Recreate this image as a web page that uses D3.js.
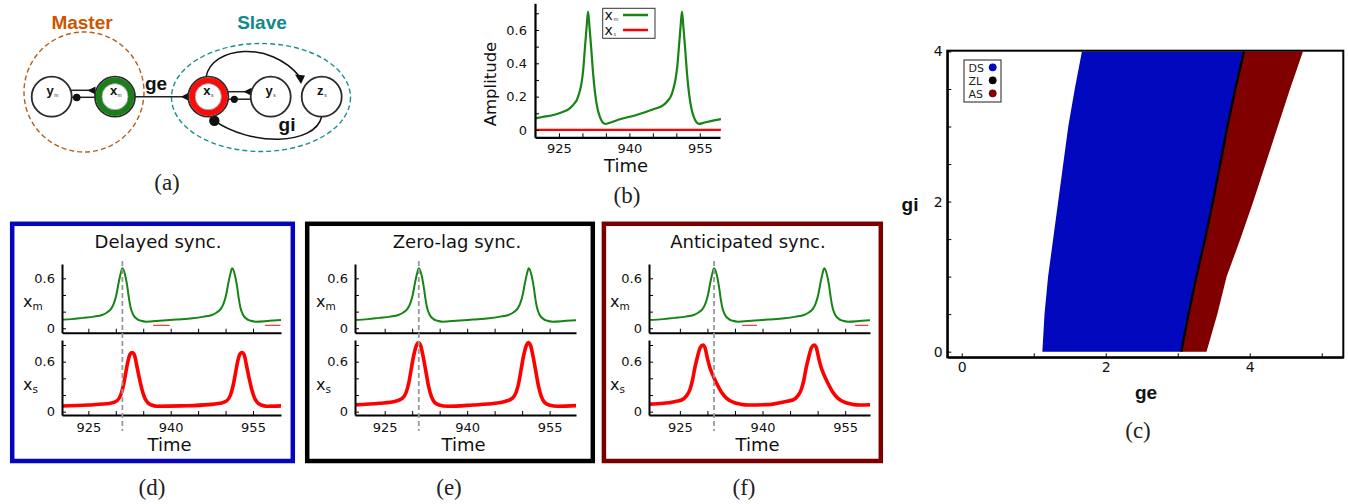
<!DOCTYPE html>
<html><head><meta charset="utf-8">
<script src="https://cdn.jsdelivr.net/npm/d3@7"></script>
<style>body{margin:0;background:#fff}svg{display:block}</style>
</head><body>
<svg id="c" width="1348" height="504"></svg>
<script>
// ================= DATA =================
const timeTicks = [925, 930, 935, 940, 945, 950, 955];
const timeTickLabels = [925, 940, 955];
const ampTicksB = [0, 0.1, 0.2, 0.3, 0.4, 0.5, 0.6, 0.7];
const ampLabelsB = [0, 0.2, 0.4, 0.6];
const ampTicksUpper = [0, 0.2, 0.4, 0.6];
const ampTicksLower = [0, 0.2, 0.4, 0.6, 0.8];
const ampLabelsSync = [0, 0.6];

// panel (b): master oscillates, slave silent
const bMaster = [[919.9,0.07],[921.5,0.078],[923.8,0.09],[925.5,0.105],[927.3,0.13],[928.3,0.16],[928.8,0.18],[929.3,0.22],[929.8,0.28],[930.2,0.37],[930.5,0.48],[930.9,0.62],[931.2,0.71],[931.5,0.62],[931.9,0.48],[932.3,0.33],[932.7,0.22],[933.2,0.13],[933.7,0.08],[934.2,0.05],[934.8,0.036],[936,0.045],[938,0.064],[941.5,0.09],[945.1,0.124],[947.3,0.15],[948.3,0.18],[948.8,0.2],[949.3,0.24],[949.8,0.3],[950.2,0.38],[950.5,0.48],[950.9,0.62],[951.2,0.71],[951.5,0.62],[951.9,0.48],[952.3,0.33],[952.7,0.22],[953.2,0.13],[953.7,0.08],[954.2,0.05],[954.8,0.036],[956,0.045],[958,0.058],[959.5,0.065]];
const bSlave = [[919.9,0],[959.5,0]];

// panels (d)(e)(f): master
const syncMaster = [[919.3,0.098],[922,0.11],[924,0.125],[926,0.14],[927.5,0.16],[928.4,0.19],[929.1,0.23],[929.6,0.29],[930.1,0.4],[930.5,0.54],[930.9,0.66],[931.2,0.72],[931.7,0.64],[932.1,0.5],[932.4,0.36],[932.7,0.25],[933.2,0.16],[933.9,0.11],[934.6,0.09],[935.5,0.08],[938,0.09],[941,0.105],[944,0.12],[946,0.14],[947.5,0.16],[948.4,0.19],[949.1,0.23],[949.6,0.29],[950.1,0.4],[950.5,0.54],[950.9,0.66],[951.2,0.72],[951.7,0.64],[952.1,0.5],[952.4,0.36],[952.7,0.25],[953.2,0.16],[953.9,0.11],[954.6,0.09],[955.5,0.08],[958,0.09],[960.5,0.1]];
// slaves
const slaveDelayed = [[919.3,0.066],[925,0.08],[929,0.1],[930.2,0.13],[930.9,0.2],[931.4,0.32],[931.8,0.46],[932.2,0.6],[932.6,0.69],[933,0.71],[933.4,0.68],[933.8,0.56],[934.3,0.4],[934.8,0.26],[935.3,0.16],[935.8,0.11],[936.5,0.08],[937.5,0.065],[942,0.07],[947,0.085],[949,0.1],[950.2,0.13],[950.9,0.2],[951.4,0.32],[951.8,0.46],[952.2,0.6],[952.6,0.69],[953,0.71],[953.4,0.68],[953.8,0.56],[954.3,0.4],[954.8,0.26],[955.3,0.16],[955.8,0.11],[956.5,0.08],[957.5,0.065],[960.5,0.07]];
const slaveZeroLag = [[919.3,0.08],[924,0.1],[927,0.125],[928.2,0.16],[928.9,0.23],[929.4,0.35],[929.8,0.5],[930.3,0.68],[930.8,0.8],[931.1,0.83],[931.5,0.8],[932,0.66],[932.5,0.48],[933,0.3],[933.5,0.18],[934.1,0.11],[934.9,0.08],[936.5,0.065],[941,0.08],[945,0.1],[947,0.125],[948.2,0.16],[948.9,0.23],[949.4,0.35],[949.8,0.5],[950.3,0.68],[950.8,0.8],[951.1,0.83],[951.5,0.8],[952,0.66],[952.5,0.48],[953,0.3],[953.5,0.18],[954.1,0.11],[954.9,0.08],[956.5,0.065],[960.5,0.075]];
const slaveAnticipated = [[919.3,0.09],[922,0.1],[924,0.12],[925.3,0.14],[926.2,0.19],[926.8,0.26],[927.3,0.38],[927.7,0.52],[928.2,0.66],[928.7,0.77],[929.2,0.8],[929.6,0.76],[930,0.64],[930.4,0.54],[930.9,0.45],[931.6,0.35],[932.5,0.24],[933.5,0.16],[934.8,0.11],[936,0.09],[937.4,0.08],[941,0.085],[944,0.12],[945.5,0.14],[946.4,0.19],[947,0.26],[947.5,0.38],[947.9,0.52],[948.4,0.66],[948.9,0.77],[949.4,0.8],[949.8,0.76],[950.2,0.64],[950.6,0.54],[951.1,0.45],[951.8,0.35],[952.7,0.24],[953.7,0.16],[955,0.11],[956.2,0.09],[957.6,0.08],[960.5,0.085]];
const artifactDelayed = [[936.8,939.8],[957.2,960]];
const artifactAnticipated = [[936.3,939],[956.8,959.2]];
const artifactLevel = 0.035;
const refTime = 931.2;

// panel (c): region boundaries in (g_e) at each g_i level
const giLevels = [0, 0.5, 1, 1.5, 2, 2.5, 3, 3.5, 4];
const dsLeft  = [1.12, 1.15, 1.2, 1.27, 1.34, 1.41, 1.48, 1.57, 1.67];
const zlEdge  = [3.05, 3.15, 3.26, 3.38, 3.49, 3.59, 3.69, 3.8, 3.92];
const asRight = [3.40, 3.55, 3.68, 3.87, 4.05, 4.22, 4.39, 4.56, 4.74];
const geTicks = [0, 1, 2, 3, 4, 5];
const geLabels = [0, 2, 4];
const giTicks = [0, 0.5, 1, 1.5, 2, 2.5, 3, 3.5, 4];
const giLabels = [0, 2, 4];
const regimeNames = ['DS', 'ZL', 'AS'];
const regimeColors = ['#0208be', '#000000', '#800000'];

// ================= DRAW =================
const svg = d3.select('#c');
const SANS = 'DejaVu Sans, sans-serif';
const ARIAL = 'Liberation Sans, Arial, sans-serif';
const SERIF = 'Liberation Serif, Times New Roman, serif';
const GREEN = '#168416', RED = '#ff0000';

function styleAxis(g, fs, sw) {
  g.selectAll('text').attr('font-family', SANS).attr('font-size', fs).attr('fill', '#111');
  g.select('.domain').attr('stroke', '#000').attr('stroke-width', sw);
  g.selectAll('.tick line').attr('stroke', '#000').attr('stroke-width', 1);
}
function fmtLab(list) { return d => list.includes(d) ? (d === 0 ? '0' : String(d)) : ''; }

function panelLabel(x, y, t) {
  svg.append('text').attr('x', x).attr('y', y).attr('text-anchor', 'middle')
    .attr('font-family', SERIF).attr('font-size', 23).attr('fill', '#222').text(t);
}

// ---------- (a) diagram ----------
(function () {
  const g = svg.append('g');
  const cy = 96.7;
  g.append('text').attr('x', 82).attr('y', 28.5).attr('text-anchor', 'middle').attr('font-family', ARIAL)
    .attr('font-weight', 'bold').attr('font-size', 19).attr('fill', '#cc5500').text('Master');
  g.append('text').attr('x', 262).attr('y', 28.5).attr('text-anchor', 'middle').attr('font-family', ARIAL)
    .attr('font-weight', 'bold').attr('font-size', 19).attr('fill', '#128888').text('Slave');
  g.append('circle').attr('cx', 84).attr('cy', 92).attr('r', 60).attr('fill', 'none')
    .attr('stroke', '#b5601c').attr('stroke-width', 1.4).attr('stroke-dasharray', '5,3');
  g.append('ellipse').attr('cx', 261).attr('cy', 97.5).attr('rx', 89.5).attr('ry', 54).attr('fill', 'none')
    .attr('stroke', '#1a8e8e').attr('stroke-width', 1.4).attr('stroke-dasharray', '5,3');
  const ln = (x1, y1, x2, y2) => g.append('line').attr('x1', x1).attr('y1', y1).attr('x2', x2).attr('y2', y2)
    .attr('stroke', '#222').attr('stroke-width', 1.5);
  // master y-x pair
  ln(70, 90.3, 95, 90.3); ln(70, 97.3, 95, 97.3);
  g.append('polygon').attr('points', '95.5,86.5 95.5,94.5 87.5,90.5').attr('fill', '#111');
  g.append('circle').attr('cx', 76.7).attr('cy', 97.5).attr('r', 3.8).attr('fill', '#111');
  // coupling x_m -> x_s
  ln(135, cy, 189, cy);
  g.append('polygon').attr('points', '189,92.5 189,100.9 181,96.7').attr('fill', '#111');
  g.append('text').attr('x', 156).attr('y', 90).attr('text-anchor', 'middle').attr('font-family', ARIAL)
    .attr('font-weight', 'bold').attr('font-size', 19).attr('fill', '#111').text('ge');
  // slave x-y pair
  ln(227, 91.7, 251, 91.7); ln(227, 99.2, 251, 99.2);
  g.append('polygon').attr('points', '251.5,87.7 251.5,95.7 243.5,91.7').attr('fill', '#111');
  g.append('circle').attr('cx', 234.3).attr('cy', 99.3).attr('r', 3.6).attr('fill', '#111');
  // x_s -> z_s arc
  g.append('path').attr('d', 'M206,77 C212,46 270,40 300,77').attr('fill', 'none').attr('stroke', '#111').attr('stroke-width', 1.5);
  g.append('polygon').attr('points', '295,74.5 305,75.5 301,84').attr('fill', '#111');
  // z_s -| x_s arc
  g.append('path').attr('d', 'M321.7,116.5 C315,146 250,146 214.3,120.7').attr('fill', 'none').attr('stroke', '#111').attr('stroke-width', 1.5);
  g.append('circle').attr('cx', 214.3).attr('cy', 120.7).attr('r', 5.2).attr('fill', '#111');
  g.append('text').attr('x', 287).attr('y', 130.5).attr('text-anchor', 'middle').attr('font-family', ARIAL)
    .attr('font-weight', 'bold').attr('font-size', 19).attr('fill', '#111').text('gi');
  // nodes
  const nodes = [
    { l: 'y', s: 'm', cx: 51.7, ring: null },
    { l: 'x', s: 'm', cx: 115, ring: '#1a7f1a' },
    { l: 'x', s: 's', cx: 208.3, ring: '#ff0a0a' },
    { l: 'y', s: 's', cx: 270.7, ring: null },
    { l: 'z', s: 's', cx: 321.7, ring: null }
  ];
  nodes.forEach(n => {
    g.append('circle').attr('cx', n.cx).attr('cy', cy).attr('r', 20).attr('fill', '#fff')
      .attr('stroke', '#2b2b2b').attr('stroke-width', 1.8);
    if (n.ring) {
      g.append('circle').attr('cx', n.cx).attr('cy', cy).attr('r', 16.2).attr('fill', 'none')
        .attr('stroke', n.ring).attr('stroke-width', 6);
      g.append('circle').attr('cx', n.cx).attr('cy', cy).attr('r', 13.1).attr('fill', '#fff')
        .attr('stroke', '#444').attr('stroke-width', 0.5);
    }
    g.append('text').attr('x', n.cx - 1.5).attr('y', cy - 1.5).attr('text-anchor', 'middle').attr('font-family', ARIAL)
      .attr('font-weight', 'bold').attr('font-size', 13).attr('fill', '#111').text(n.l);
    g.append('text').attr('x', n.cx + 2.6).attr('y', cy).attr('font-family', ARIAL)
      .attr('font-size', 5).attr('fill', '#333').text(n.s);
  });
  panelLabel(167, 190, '(a)');
})();

// ---------- (b) ----------
(function () {
  const x = d3.scaleLinear().domain([919.9, 959.3]).range([535, 720]);
  const y = d3.scaleLinear().domain([-0.044, 0.76]).range([137.3, 3.3]);
  const line = d3.line().x(d => x(d[0])).y(d => y(d[1]));
  svg.append('path').datum(bSlave).attr('d', line).attr('fill', 'none').attr('stroke', RED).attr('stroke-width', 2.2);
  svg.append('path').datum(bMaster).attr('d', line.curve(d3.curveMonotoneX)).attr('fill', 'none')
    .attr('stroke', GREEN).attr('stroke-width', 2.2);
  const ax = svg.append('g').attr('transform', 'translate(0,137.3)')
    .call(d3.axisBottom(x).tickValues(timeTicks).tickSize(-4).tickSizeOuter(0).tickPadding(6.5).tickFormat(fmtLab(timeTickLabels)));
  styleAxis(ax, 13, 2.2);
  const ay = svg.append('g').attr('transform', 'translate(535,0)')
    .call(d3.axisLeft(y).tickValues(ampTicksB).tickSize(-4).tickSizeOuter(0).tickPadding(8).tickFormat(fmtLab(ampLabelsB)));
  styleAxis(ay, 13, 2.2);
  svg.append('text').attr('x', 626).attr('y', 171.5).attr('text-anchor', 'middle').attr('font-family', SANS)
    .attr('font-size', 18).attr('fill', '#111').text('Time');
  svg.append('text').attr('transform', 'translate(496,84) rotate(-90)').attr('text-anchor', 'middle')
    .attr('font-family', SANS).attr('font-size', 16.5).attr('fill', '#111').text('Amplitude');
  // legend
  svg.append('rect').attr('x', 602.7).attr('y', 8.3).attr('width', 52.3).attr('height', 30)
    .attr('fill', '#fff').attr('stroke', '#333').attr('stroke-width', 1);
  [['m', GREEN, 15], ['s', RED, 30]].forEach(([s, c, yy]) => {
    svg.append('text').attr('x', 604.5).attr('y', yy + 4.5).attr('font-family', SANS).attr('font-size', 14)
      .attr('fill', '#111').text('x');
    svg.append('text').attr('x', 613.5).attr('y', yy + 5.5).attr('font-family', SANS).attr('font-size', 5)
      .attr('fill', '#333').text(s);
    svg.append('line').attr('x1', 623).attr('x2', 648).attr('y1', yy).attr('y2', yy).attr('stroke', c).attr('stroke-width', 2.5);
  });
  panelLabel(627, 203, '(b)');
})();

// ---------- (c) ----------
(function () {
  const x = d3.scaleLinear().domain([-0.2, 5.3]).range([947.3, 1343.3]);
  const y = d3.scaleLinear().domain([-0.075, 4.01]).range([357.3, 50.7]);
  const rows = giLevels.map((g, i) => ({ gi: g, l: dsLeft[i], z: zlEdge[i], r: asRight[i] }));
  const clip = svg.append('clipPath').attr('id', 'clipC');
  clip.append('rect').attr('x', 947.3).attr('y', 50.7).attr('width', 396).attr('height', 306.6);
  const gc = svg.append('g').attr('clip-path', 'url(#clipC)');
  gc.append('path').datum(rows).attr('fill', regimeColors[0])
    .attr('d', d3.area().y(d => y(d.gi)).x0(d => x(d.l)).x1(d => x(d.z)));
  gc.append('path').datum(rows).attr('fill', regimeColors[2])
    .attr('d', d3.area().y(d => y(d.gi)).x0(d => x(d.z)).x1(d => x(d.r)));
  gc.append('path').datum(rows).attr('fill', 'none').attr('stroke', regimeColors[1]).attr('stroke-width', 2.4)
    .attr('d', d3.line().y(d => y(d.gi)).x(d => x(d.z)));
  const ax = svg.append('g').attr('transform', 'translate(0,357.3)')
    .call(d3.axisBottom(x).tickValues(geTicks).tickSize(-4).tickSizeOuter(0).tickPadding(4.5).tickFormat(fmtLab(geLabels)));
  styleAxis(ax, 14, 2);
  const ay = svg.append('g').attr('transform', 'translate(947.3,0)')
    .call(d3.axisLeft(y).tickValues(giTicks).tickSize(-4).tickSizeOuter(0).tickPadding(4.6).tickFormat(fmtLab(giLabels)));
  styleAxis(ay, 14, 2);
  svg.append('rect').attr('x', 947.3).attr('y', 50.7).attr('width', 396).attr('height', 306.6)
    .attr('fill', 'none').attr('stroke', '#000').attr('stroke-width', 2);
  svg.append('text').attr('x', 1146).attr('y', 399).attr('text-anchor', 'middle').attr('font-family', ARIAL)
    .attr('font-weight', 'bold').attr('font-size', 19).attr('fill', '#111').text('ge');
  svg.append('text').attr('x', 910).attr('y', 210.5).attr('text-anchor', 'middle').attr('font-family', ARIAL)
    .attr('font-weight', 'bold').attr('font-size', 19).attr('fill', '#111').text('gi');
  // legend
  svg.append('rect').attr('x', 964).attr('y', 60).attr('width', 37).attr('height', 42)
    .attr('fill', '#fff').attr('stroke', '#444').attr('stroke-width', 1.2);
  regimeNames.forEach((n, i) => {
    const yy = 67.3 + i * 13;
    svg.append('text').attr('x', 968.5).attr('y', yy + 4.2).attr('font-family', SANS).attr('font-size', 11)
      .attr('fill', '#222').text(n);
    svg.append('circle').attr('cx', 992.7).attr('cy', yy).attr('r', 3.9).attr('fill', regimeColors[i]);
  });
  panelLabel(1138, 438, '(c)');
})();

// ---------- (d)(e)(f) ----------
function syncPanel(p) {
  const x = d3.scaleLinear().domain(p.dom).range([p.x0, p.x1]);
  const yU = d3.scaleLinear().domain([-0.053, 0.772]).range([332.7, 264]);
  const yL = d3.scaleLinear().domain([-0.04, 0.86]).range([415, 340]);
  svg.append('rect').attr('x', p.bx0).attr('y', 223.8).attr('width', p.bx1 - p.bx0).attr('height', 237.2)
    .attr('fill', 'none').attr('stroke', p.color).attr('stroke-width', 4.5);
  svg.append('text').attr('x', p.tx).attr('y', 247.5).attr('text-anchor', 'middle').attr('font-family', SANS)
    .attr('font-size', 18).attr('fill', '#111').text(p.title);
  const id = 'clip' + p.key;
  const cp = svg.append('clipPath').attr('id', id);
  cp.append('rect').attr('x', p.x0).attr('y', 250).attr('width', p.x1 - p.x0).attr('height', 170);
  const g = svg.append('g').attr('clip-path', `url(#${id})`);
  (p.artifacts || []).forEach(a => {
    g.append('line').attr('x1', x(a[0])).attr('x2', x(a[1])).attr('y1', yU(artifactLevel)).attr('y2', yU(artifactLevel))
      .attr('stroke', RED).attr('stroke-width', 1.2).attr('opacity', 0.8);
  });
  g.append('path').datum(syncMaster).attr('fill', 'none').attr('stroke', GREEN).attr('stroke-width', 2)
    .attr('d', d3.line().x(d => x(d[0])).y(d => yU(d[1])).curve(d3.curveMonotoneX));
  g.append('path').datum(p.slave).attr('fill', 'none').attr('stroke', RED).attr('stroke-width', 3.6)
    .attr('d', d3.line().x(d => x(d[0])).y(d => yL(d[1])).curve(d3.curveMonotoneX));
  [[yU, 332.7, ampTicksUpper], [yL, 415, ampTicksLower]].forEach(([ys, base, ticks]) => {
    const ax = svg.append('g').attr('transform', `translate(0,${base})`)
      .call(d3.axisBottom(x).tickValues(timeTicks).tickSize(-4).tickSizeOuter(0).tickPadding(7.5)
        .tickFormat(base === 415 ? fmtLab(timeTickLabels) : () => ''));
    styleAxis(ax, 13, 2);
    const ay = svg.append('g').attr('transform', `translate(${p.x0},0)`)
      .call(d3.axisLeft(ys).tickValues(ticks).tickSize(-4).tickSizeOuter(0).tickPadding(7).tickFormat(fmtLab(ampLabelsSync)));
    styleAxis(ay, 13, 2);
  });
  svg.append('line').attr('x1', x(refTime)).attr('x2', x(refTime)).attr('y1', 261).attr('y2', 431)
    .attr('stroke', '#999').attr('stroke-width', 1.8).attr('stroke-dasharray', '5,3');
  // y labels
  [['m', 307], ['s', 390]].forEach(([s, yy]) => {
    svg.append('text').attr('x', p.x0 - 39).attr('y', yy).attr('font-family', SANS).attr('font-size', 16)
      .attr('fill', '#111').text('x');
    svg.append('text').attr('x', p.x0 - 29.5).attr('y', yy + 3).attr('font-family', SANS).attr('font-size', 10.5)
      .attr('fill', '#111').text(s);
  });
  svg.append('text').attr('x', (p.x0 + p.x1) / 2 - 2).attr('y', 450.5).attr('text-anchor', 'middle')
    .attr('font-family', SANS).attr('font-size', 18).attr('fill', '#111').text('Time');
  panelLabel(p.lx, 495, p.label);
}
syncPanel({ key: 'd', dom: [920.2, 960.1], x0: 62, x1: 281, bx0: 12.2, bx1: 292.8, color: '#0505bb',
  title: 'Delayed sync.', tx: 158, slave: slaveDelayed, artifacts: artifactDelayed, lx: 152, label: '(d)' });
syncPanel({ key: 'e', dom: [919.6, 959.8], x0: 355, x1: 576, bx0: 307.2, bx1: 592.8, color: '#000',
  title: 'Zero-lag sync.', tx: 457, slave: slaveZeroLag, artifacts: [], lx: 449, label: '(e)' });
syncPanel({ key: 'f', dom: [919.4, 959.5], x0: 649, x1: 870, bx0: 603.9, bx1: 880.8, color: '#7a0000',
  title: 'Anticipated sync.', tx: 748, slave: slaveAnticipated, artifacts: artifactAnticipated, lx: 744, label: '(f)' });
</script>
</body></html>
